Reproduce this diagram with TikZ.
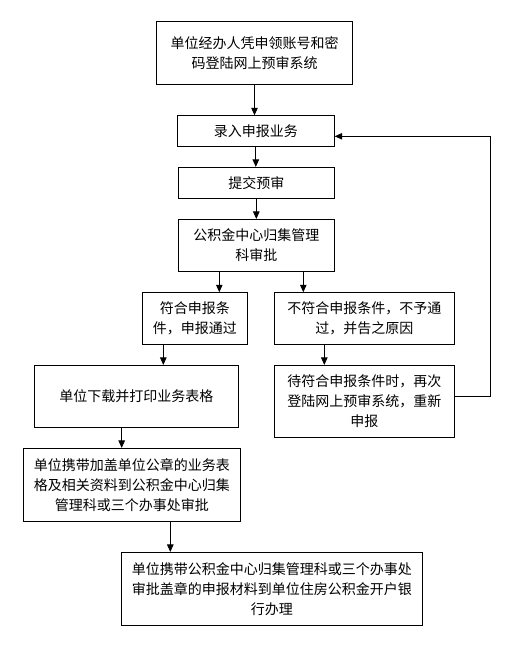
\documentclass[tikz,border=0pt]{standalone}
\usepackage{fontspec}
\setmainfont{Noto Sans CJK SC}
\usetikzlibrary{arrows.meta}

\begin{document}
\begin{tikzpicture}[x=1pt,y=-1pt,
    box/.style={draw, line width=0.8pt, align=center, inner sep=0pt, font=\fontsize{14}{20}\selectfont},
    arrow/.style={line width=0.8pt, -{Triangle[length=7.5pt,width=6.5pt]}}]
        % Fix the page size
        \useasboundingbox (0,0) rectangle (516,645);

        % Draw the main column of boxes
        \node[box, minimum width=195.6pt, minimum height=62.3pt] (login) at (254.5,52.9) {单位经办人凭申领账号和密\\码登陆网上预审系统};
        \node[box, minimum width=157pt, minimum height=30.6pt] (entry) at (255.8,131) {录入申报业务};
        \node[box, minimum width=156pt, minimum height=31pt] (submit) at (256.3,182.8) {提交预审};
        \node[box, minimum width=156pt, minimum height=51.7pt] (review) at (256.3,245.2) {公积金中心归集管理\\科审批};

        % Draw the two outcomes
        \node[box, minimum width=105pt, minimum height=51.3pt] (pass) at (194.8,318.3) {符合申报条\\件，申报通过};
        \node[box, minimum width=180pt, minimum height=51.3pt] (reject) at (364.3,318.3) {不符合申报条件，不予通\\过，并告之原因};
        \node[box, minimum width=204pt, minimum height=61.7pt] (print) at (136.3,396.2) {单位下载并打印业务表格};
        \node[box, minimum width=180pt, minimum height=71.7pt] (resubmit) at (364.3,401.2) {待符合申报条件时，再次\\登陆网上预审系统，重新\\申报};

        % Draw the last two steps
        \node[box, minimum width=217pt, minimum height=72.7pt] (approve) at (131.8,484.7) {单位携带加盖单位公章的业务表\\格及相关资料到公积金中心归集\\管理科或三个办事处审批};
        \node[box, minimum width=301pt, minimum height=72.7pt] (bank) at (271.8,588.7) {单位携带公积金中心归集管理科或三个办事处\\审批盖章的申报材料到单位住房公积金开户银\\行办理};

        % Draw the arrows
        \draw[arrow] (login.south) -- (login.south |- entry.north);
        \draw[arrow] (entry.south) -- (entry.south |- submit.north);
        \draw[arrow] (submit.south) -- (submit.south |- review.north);
        \draw[arrow] ([xshift=-37pt]review.south) -- ([xshift=-37pt]review.south |- pass.north);
        \draw[arrow] ([xshift=47pt]review.south) -- ([xshift=47pt]review.south |- reject.north);
        \draw[arrow] ([xshift=-31.5pt]pass.south) -- ([xshift=-31.5pt]pass.south |- print.north);
        \draw[arrow] ([xshift=-40pt]reject.south) -- ([xshift=-40pt]reject.south |- resubmit.north);
        \draw[arrow] ([xshift=-14.6pt]print.south) -- ([xshift=-14.6pt]print.south |- approve.north);
        \draw[arrow] ([xshift=38.5pt]approve.south) -- ([xshift=38.5pt]approve.south |- bank.north);

        % Loop back to the entry box
        \draw[arrow] ([yshift=4.9pt]resubmit.east) -| (490,136.3) -- ([yshift=-5.3pt]entry.east);
    \end{tikzpicture}
\end{document}
